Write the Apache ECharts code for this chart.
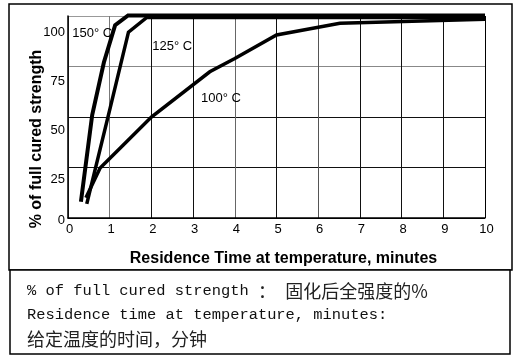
<!DOCTYPE html>
<html><head><meta charset="utf-8">
<script src="https://cdn.jsdelivr.net/npm/echarts@6/dist/echarts.min.js"></script>
<style>html,body{margin:0;padding:0;background:#fff}#c{width:518px;height:363px}</style>
</head><body><div id="c"></div>
<script>
// Data
var xTicks = [0,1,2,3,4,5,6,7,8,9,10];
var yTicks = [0,25,50,75,100];
var curve150 = [[0.31,8],[0.58,51],[0.86,77],[1.13,95.5],[1.44,100.3],[10,100.3]];
var curve125 = [[0.45,7],[1.0,53.5],[1.45,92],[1.89,99.3],[10,99.3]];
var curve100 = [[0.43,10],[0.77,24.7],[1.32,36],[2.0,50],[3.4,72.4],[4.0,79],[5.0,90.6],[6.52,96.4],[10,98.4]];
var curveNames = ['150° C','125° C','100° C'];
var curveLabelPos = [[0.58,91.5],[2.5,85],[3.67,59]];
var xName = 'Residence Time at temperature, minutes';
var yName = '% of full cured strength';
var noteLine1 = ['% of full cured strength ','：',' ','固化后全强度的%'];
var noteLine2 = 'Residence time at temperature, minutes:';
var noteLine3 = '给定温度的时间，分钟';

var chart = echarts.init(document.getElementById('c'), null, {renderer:'canvas'});
var yPad = {0:5,25:24,50:26,75:30,100:32};
var rich = {};
yTicks.forEach(function(v){ rich['v'+v] = {fontFamily:'Liberation Sans',fontSize:13,color:'#000',padding:[yPad[v],0,0,0]}; });

function mkSeries(data, name, w, idx){
  return {
    type:'line', name:name, data:data, symbol:'none', clip:false, z:3,
    lineStyle:{color:'#000', width:w, join:'miter'},
    markPoint:{
      symbol:'circle', symbolSize:0,
      label:{show:true, formatter:name, color:'#000', fontFamily:'Liberation Sans', fontSize:13, position:'inside'},
      data:[{coord:curveLabelPos[idx]}]
    }
  };
}

var monoStyle = {fontFamily:'Liberation Mono',fontSize:15.4,fill:'#111'};
var cjkStyle = {fontFamily:'Noto Sans CJK SC',fontSize:18,fill:'#222'};

chart.setOption({
  backgroundColor:'#fff',
  animation:false,
  grid:{left:68, right:33, top:16, bottom:145},
  xAxis:{
    type:'value', min:0, max:10, interval:1,
    name:xName, nameLocation:'middle', nameGap:33, nameMoveOverlap:false,
    nameTextStyle:{fontFamily:'Liberation Sans', fontWeight:'bold', fontSize:16, color:'#000', padding:[0,0,0,14]},
    axisLine:{show:true, lineStyle:{color:'#000', width:1.5}},
    axisTick:{show:false},
    axisLabel:{margin:5, fontFamily:'Liberation Sans', fontSize:13, color:'#000', padding:[0,0,0,3],
      formatter:function(v){return xTicks.indexOf(v)>=0 ? String(v) : '';}},
    splitLine:{show:true, lineStyle:{color:['#444','#777','#111','#111','#666','#111','#555','#111','#111','#111','#000'], width:1}}
  },
  yAxis:{
    type:'value', min:0, max:100, interval:25,
    name:yName, nameLocation:'middle', nameGap:23, nameMoveOverlap:false,
    nameTextStyle:{fontFamily:'Liberation Sans', fontWeight:'bold', fontSize:16, color:'#000', padding:[0,44,0,0]},
    axisLine:{show:true, lineStyle:{color:'#000', width:1.5}},
    axisTick:{show:false},
    axisLabel:{margin:3, formatter:function(v){return '{v'+v+'|'+v+'}';}, rich:rich},
    splitLine:{show:true, lineStyle:{color:['#000','#111','#111','#888','#999'], width:1}}
  },
  series:[
    mkSeries(curve150, curveNames[0], 4, 0),
    mkSeries(curve125, curveNames[1], 3.5, 1),
    mkSeries(curve100, curveNames[2], 3.5, 2)
  ],
  graphic:[
    {type:'rect', shape:{x:9, y:4, width:503, height:266}, style:{fill:'none', stroke:'#000', lineWidth:1.5}, silent:true, z:-1},
    {type:'rect', shape:{x:10, y:270, width:500, height:84}, style:{fill:'#fff', stroke:'#000', lineWidth:1.5}, silent:true},
    {type:'text', left:27, top:282, style:{rich:{m:monoStyle,c:cjkStyle},
      text:'{m|'+noteLine1[0]+'}{c|'+noteLine1[1]+'}{m|'+noteLine1[2]+'}{c|'+noteLine1[3]+'}'}},
    {type:'text', left:27, top:307, style:{rich:{m:monoStyle}, text:'{m|'+noteLine2+'}'}},
    {type:'text', left:27, top:330, style:{rich:{c:cjkStyle}, text:'{c|'+noteLine3+'}'}}
  ]
});
</script></body></html>
